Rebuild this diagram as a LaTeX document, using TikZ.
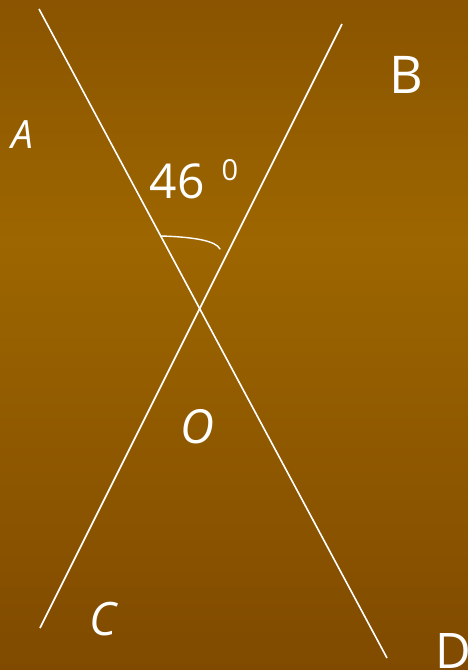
\documentclass[tikz,border=0pt]{standalone}
\usepackage{fontspec}
\setmainfont{Open Sans}
\definecolor{bgtop}{RGB}{138,84,0}
\definecolor{bgmid}{RGB}{157,102,0}
\definecolor{bgbot}{RGB}{128,74,0}
\pgfdeclareverticalshading{bgsh}{100bp}{color(0bp)=(bgbot); color(25bp)=(bgbot); color(57bp)=(bgmid); color(75bp)=(bgtop); color(100bp)=(bgtop)}
\begin{document}
\begin{tikzpicture}[x=1pt,y=-1pt,
  lbl/.style={text=white,inner sep=0pt,anchor=center},
  ln/.style={white,line width=1.6pt}]
\shade[shading=bgsh] (0,0) rectangle (468,670);
\useasboundingbox (0,0) rectangle (468,670);
\coordinate (a1) at (39,9);
\coordinate (d1) at (387,658);
\coordinate (b1) at (342,24);
\coordinate (c1) at (40,628);
\draw[ln] (a1) -- (d1);
\draw[ln] (b1) -- (c1);
\coordinate (arcs) at (161,236);
\coordinate (arce) at (220,249);
\draw[white,line width=1.4pt,line cap=round] (arcs) .. controls (195,237) and (216,241) .. (arce);
\node[lbl,font=\fontsize{39}{39}\selectfont\itshape] (A) at (22,135) {A};
\node[lbl,font=\fontsize{52}{52}\selectfont] (B) at (406,75) {B};
\node[lbl,font=\fontsize{46}{46}\selectfont\itshape] (C) at (103,619) {C};
\node[lbl,font=\fontsize{49}{49}\selectfont] (D) at (453,651) {D};
\node[lbl,font=\fontsize{47}{47}\selectfont\itshape] (O) at (197,427) {O};
\node[lbl,font=\fontsize{48}{48}\selectfont] (n46) at (177,181) {46};
\node[lbl,font=\fontsize{29}{29}\selectfont] (deg) at (230,170) {0};
\end{tikzpicture}
\end{document}
